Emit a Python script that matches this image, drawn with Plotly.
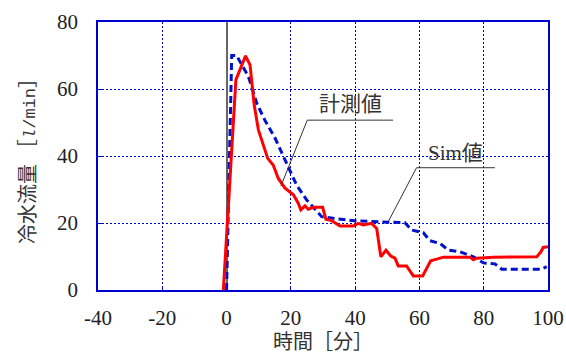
import plotly.graph_objects as go

meas_t = [-1, 2.9, 5.9, 7.3, 8.6, 9.9, 12.8, 14.5, 16.1, 18.2, 20.8, 22.3, 23.1, 24.4, 25.4,
          27.0, 29.9, 30.9, 32.7, 35.3, 39.4, 41.0, 42.5, 44.1, 45.1, 46.7, 48.0, 49.6, 51.1,
          52.4, 53.4, 56.0, 58.1, 61.0, 63.5, 65.4, 67.4, 75.7, 76.8, 77.8, 83.0, 96.5, 97.8,
          98.5, 100]
meas_q = [0, 62.7, 69.9, 67.2, 55.2, 47.8, 39.3, 37.3, 33.3, 30.4, 28.4, 25.9, 23.9, 25.1, 24.1,
          24.7, 24.7, 21.1, 20.7, 19.1, 19.1, 19.9, 19.4, 19.6, 19.9, 18.4, 9.9, 11.9, 10.1,
          9.5, 7.2, 7.2, 4.2, 4.2, 8.7, 9.2, 9.8, 9.8, 9.0, 9.5, 9.8, 9.9, 11.4,
          12.7, 12.9]

# simulation
sim_t = [0, 1.6, 3.1, 6.8, 9.4, 11.9, 15.1, 18.2, 21.8, 24.9, 29.6, 33.2, 40.5, 55.5, 57.6,
         61.2, 63.3, 66.4, 69.0, 72.6, 76.8, 79.9, 83.5, 85.6, 98.0, 99.6]
sim_q = [0, 70, 70, 63.7, 55.7, 50.7, 45.3, 38.8, 31.3, 26.9, 21.9, 21.4, 20.6, 20.1, 17.9,
         17.1, 14.7, 13.9, 11.9, 11.4, 9.9, 8.1, 7.8, 6.2, 6.2, 7.0]

x_ticks = [-40, -20, 0, 20, 40, 60, 80, 100]
x_labels = ["-40", "-20", "0", "20", "40", "60", "80", "100"]
y_ticks = [0, 20, 40, 60, 80]

FONT = "Liberation Serif, Noto Sans CJK JP, serif"
BLUE = "#0000cc"

fig = go.Figure()
fig.add_trace(go.Scatter(x=sim_t, y=sim_q, mode="lines", name="Sim値",
                         line=dict(color="#0011cc", width=3, dash="7px,4px")))
fig.add_trace(go.Scatter(x=meas_t, y=meas_q, mode="lines", name="計測値",
                         line=dict(color="#ff0000", width=3)))

# callout leaders
leaders = [
    (16.9, 31.0, 25.1, 50.7), (25.1, 50.7, 51.8, 50.7),
    (50.3, 20.4, 59.1, 36.5), (59.1, 36.5, 83.5, 36.5),
]
for x0, y0, x1, y1 in leaders:
    fig.add_shape(type="line", x0=x0, y0=y0, x1=x1, y1=y1,
                  line=dict(color="#333333", width=1))

fig.add_annotation(x=38.4, y=55.4, text="計測値", showarrow=False,
                   font=dict(family=FONT, size=21, color="#333333"))
fig.add_annotation(x=71.1, y=41.0, text="Sim値", showarrow=False,
                   font=dict(family=FONT, size=21, color="#333333"))

axis_common = dict(
    showline=True, linecolor=BLUE, linewidth=1.5, mirror=True,
    showgrid=True, gridcolor=BLUE, gridwidth=1, griddash="2px,2px",
    ticks="inside", ticklen=4, tickcolor=BLUE, automargin=False,
    tickfont=dict(family=FONT, size=21, color="#222222"),
)

fig.update_layout(
    width=566, height=356,
    margin=dict(l=98, r=18, t=22, b=66),
    plot_bgcolor="white", paper_bgcolor="white",
    showlegend=False,
    xaxis=dict(range=[-40, 100], tickvals=x_ticks, ticktext=x_labels,
               zeroline=True, zerolinecolor="#666666", zerolinewidth=2,
               ticklabelstandoff=8,
               title=dict(text="時間［分］", standoff=6,
                          font=dict(family=FONT, size=20, color="#333333")),
               **axis_common),
    yaxis=dict(range=[0, 80], tickvals=y_ticks, zeroline=False, ticklabelstandoff=14,
               title=dict(text="冷水流量 ［<span style='font-family:Liberation Mono;font-size:17px'>"
                               "<i>l</i>/min</span>］",
                          standoff=16,
                          font=dict(family=FONT, size=20, color="#333333")),
               **axis_common),
)

# drop the default 8px page margin so the figure sits at the window corner
fig.write_html("out.html", config={"displayModeBar": False},
               post_script="document.body.style.margin='0';")
